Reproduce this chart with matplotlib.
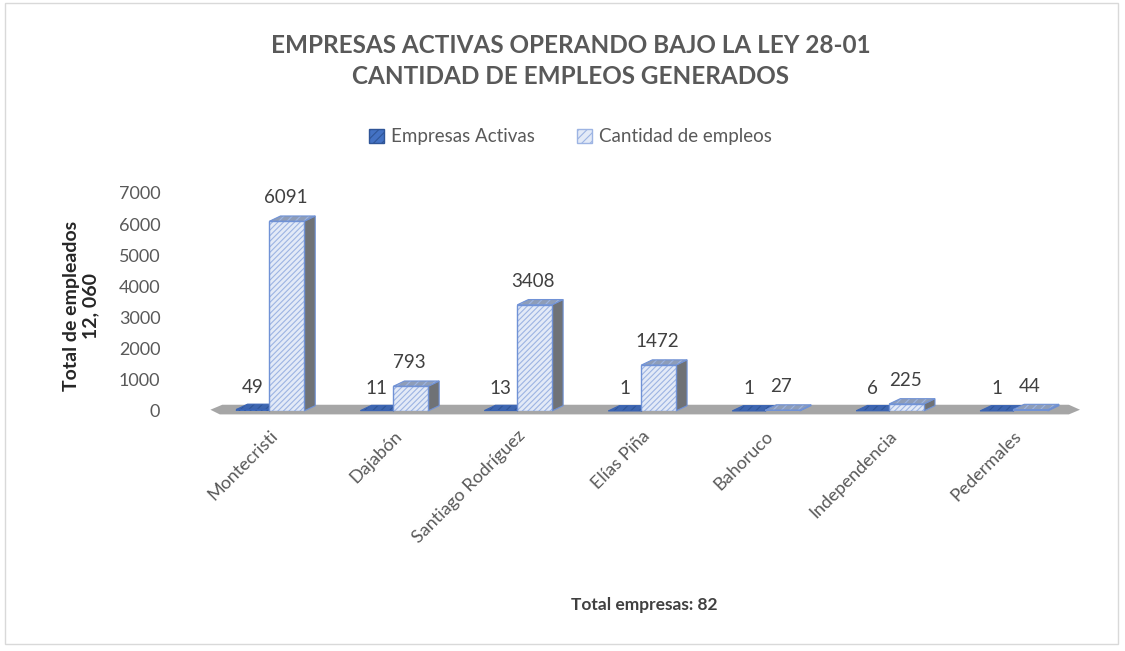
import numpy as np
import matplotlib
matplotlib.use("Agg")
import matplotlib.pyplot as plt
from matplotlib.patches import Polygon, Rectangle, Patch

plt.rcParams['font.family'] = ['Lato', 'DejaVu Sans']
plt.rcParams['hatch.linewidth'] = 0.8

# data
provincias = ['Montecristi', 'Dajabón', 'Santiago Rodríguez', 'Elías Piña',
              'Bahoruco', 'Independencia', 'Pedermales']
empresas = [49, 11, 13, 1, 1, 6, 1]
empleos = [6091, 793, 3408, 1472, 27, 225, 44]
series = ['Empresas Activas', 'Cantidad de empleos']

gray_txt = '#595959'
dark_face, dark_hatch = '#4472C4', '#2F5597'
light_face, light_hatch, light_edge = '#E3EAF7', '#9DB4E3', '#7092D6'

fig = plt.figure(figsize=(11.25, 6.51), dpi=100)
ax = fig.add_axes([0.187, 0.3687, 0.773, 0.3349])
ax.set_xlim(-0.476, 6.54)
ax.set_ylim(0, 7000)

dx, dy = 0.09, 170
wd, wl = 0.266, 0.28
x = np.arange(len(provincias))

# floor
floor = Polygon([(-0.476, 40), (-0.40, -110), (6.45, -110), (6.54, 40),
                 (6.45, 200), (-0.38, 200)],
                closed=True, facecolor='#A6A6A6', edgecolor='none', zorder=1,
                clip_on=False)
ax.add_patch(floor)

def bar3d(ax, x0, w, v, face, hatch_col, edge, top_col, side_col, z):
    # side face
    ax.add_patch(Polygon([(x0 + w, 0), (x0 + w + dx, dy), (x0 + w + dx, v + dy), (x0 + w, v)],
                         closed=True, facecolor=side_col, edgecolor=edge, lw=0.8,
                         zorder=z, clip_on=False))
    # top face
    ax.add_patch(Polygon([(x0, v), (x0 + dx, v + dy), (x0 + w + dx, v + dy), (x0 + w, v)],
                         closed=True, facecolor=top_col, edgecolor=hatch_col, hatch='////',
                         lw=0, zorder=z, clip_on=False))
    ax.add_patch(Polygon([(x0, v), (x0 + dx, v + dy), (x0 + w + dx, v + dy), (x0 + w, v)],
                         closed=True, facecolor='none', edgecolor=edge, lw=0.8,
                         zorder=z, clip_on=False))
    # front
    ax.bar(x0, v, width=w, align='edge', color=face, edgecolor=hatch_col,
           hatch='//////', lw=0, zorder=z + 0.1)
    ax.bar(x0, v, width=w, align='edge', color='none', edgecolor=edge,
           lw=1.0, zorder=z + 0.2)

for i in range(len(provincias)):
    bar3d(ax, x[i] - wd, wd, empresas[i], dark_face, dark_hatch, '#3A64B5',
          '#3E66B0', '#3E66B0', 2 + i * 0.01)
    bar3d(ax, x[i], wl, empleos[i], light_face, light_hatch, light_edge,
          '#8E9DB8', '#6F7276', 3 + i * 0.01)
    ax.annotate(str(empresas[i]), (x[i] - wd / 2, empresas[i] + dy),
                xytext=(0, 6), textcoords='offset points', ha='center',
                va='bottom', fontsize=13.5, color='#404040')
    ax.annotate(str(empleos[i]), (x[i] + 0.13, empleos[i] + dy),
                xytext=(0, 7), textcoords='offset points', ha='center',
                va='bottom', fontsize=13.5, color='#404040')

for s in ax.spines.values():
    s.set_visible(False)
ax.set_yticks(np.arange(0, 7001, 1000))
ax.tick_params(axis='y', length=0, pad=36, labelsize=13, labelcolor=gray_txt)
ax.set_xticks(x)
ax.set_xticklabels(provincias, rotation=45, ha='right', rotation_mode='anchor',
                   fontsize=13, color=gray_txt)
ax.tick_params(axis='x', length=0, pad=12)
ax.patch.set_visible(False)

# titles
fig.text(0.507, 0.93, 'EMPRESAS ACTIVAS OPERANDO BAJO LA LEY 28-01', ha='center',
         va='center', fontsize=17.5, fontweight='bold', color=gray_txt)
fig.text(0.507, 0.882, 'CANTIDAD DE EMPLEOS GENERADOS', ha='center',
         va='center', fontsize=17.5, fontweight='bold', color=gray_txt)

handles = [Patch(facecolor=dark_face, edgecolor=dark_hatch, hatch='////'),
           Patch(facecolor=light_face, edgecolor=light_hatch, hatch='////')]
fig.legend(handles, series, loc='center', bbox_to_anchor=(0.507, 0.79), ncol=2,
           frameon=False, fontsize=13.5, labelcolor=gray_txt, handlelength=0.8,
           handleheight=0.8, columnspacing=2.2, handletextpad=0.4)

fig.text(0.072, 0.53, 'Total de empleados\n12, 060', rotation=90, ha='center',
         va='center', fontsize=14, fontweight='bold', color='#262626',
         multialignment='center', linespacing=1.2)
fig.text(0.573, 0.07, 'Total empresas: 82', ha='center', va='center',
         fontsize=12.5, fontweight='bold', color='#404040')

fig.patches.append(Rectangle((0.004, 0.01), 0.99, 0.985, transform=fig.transFigure,
                             fill=False, edgecolor='#D9D9D9', lw=1))

fig.savefig('out.png', dpi=100)
